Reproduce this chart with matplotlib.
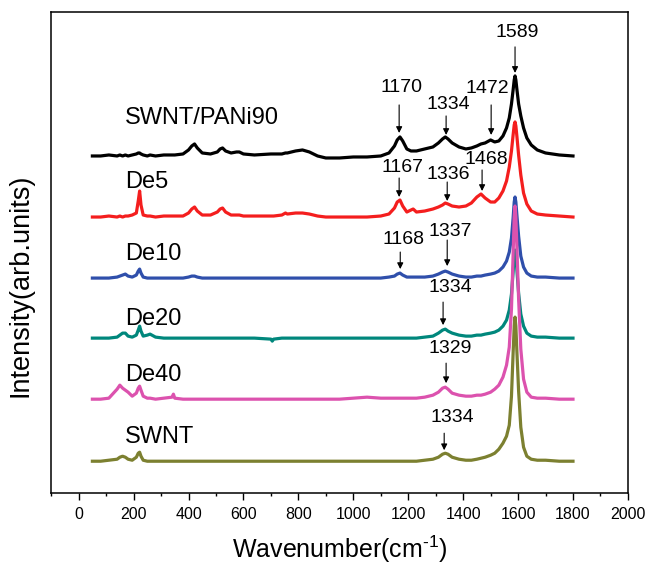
import matplotlib
matplotlib.use('Agg')
import matplotlib.pyplot as plt
from matplotlib.ticker import MultipleLocator

plt.rcParams['font.family'] = ['Liberation Sans', 'DejaVu Sans']
plt.rcParams['mathtext.fontset'] = 'custom'
plt.rcParams['mathtext.rm'] = 'Liberation Sans'

# shared wavenumber grid (cm-1)
wavenumber = [50, 80, 110, 140, 150, 160, 170, 180, 195, 210, 217, 222, 227, 235, 250, 260, 280, 310,
              340, 345, 350, 380, 400, 412, 422, 432, 450, 480, 505, 515, 524, 535, 555, 575, 585, 600,
              640, 700, 705, 710, 740, 753, 760, 790, 815, 840, 870, 900, 950, 1000, 1050, 1100, 1130,
              1150, 1160, 1170, 1180, 1195, 1210, 1218, 1230, 1260, 1290, 1310, 1325, 1335, 1345, 1360,
              1385, 1410, 1430, 1450, 1465, 1480, 1500, 1515, 1530, 1545, 1558, 1568, 1576, 1582, 1586,
              1589, 1592, 1596, 1602, 1610, 1620, 1632, 1648, 1670, 1700, 1750, 1800]

# intensities (arb. units), relative to each trace's own baseline
pani90 = [0, 0, 1, 0, 1, 0, 1, 0, 1, 2, 3, 3, 2, 1, 0, 1, 0, 1,
          1, 1, 1, 2, 6, 10, 12, 8, 3, 2, 4, 7, 8, 5, 3, 4, 4, 2,
          1, 2, 2, 2, 2, 3, 3, 5, 6, 4, 0, -2, -2, -1, -1, 0, 3,
          10, 16, 19, 15, 7, 5, 5, 5, 7, 9, 13, 17, 19, 17, 13,
          9, 7, 8, 10, 12, 13, 16, 14, 15, 20, 28, 38, 52, 66, 76,
          80, 76, 66, 52, 40, 28, 18, 11, 6, 3, 1, 0]
de5 = [0, 0, 1, 0, 1, 0, 1, 1, 2, 4, 16, 26, 12, 2, 1, 1, 0, 1,
       1, 1, 1, 1, 4, 8, 10, 6, 2, 2, 5, 8, 9, 5, 2, 2, 2, 1,
       1, 1, 1, 1, 2, 4, 3, 4, 4, 3, 1, 0, 0, 0, 0, 1, 3,
       9, 15, 17, 11, 5, 7, 8, 5, 6, 8, 10, 12, 14, 13, 11,
       10, 11, 14, 20, 23, 19, 15, 15, 19, 26, 36, 50, 66, 82, 92,
       95, 91, 80, 62, 42, 24, 13, 6, 3, 2, 1, 0]
de10 = [0, 0, 0, 1, 2, 3, 4, 2, 1, 3, 7, 9, 5, 1, 0, 0, 0, 0,
        0, 0, 0, 0, 1, 2, 2, 1, 0, 0, 0, 0, 0, 0, 0, 0, 0, 0,
        0, 0, 0, 0, 0, 0, 0, 0, 0, 0, 0, 0, 0, 0, 0, 0, 1,
        2, 4, 5, 3, 1, 1, 1, 1, 1, 2, 4, 6, 7, 6, 4,
        2, 1, 1, 2, 2, 3, 4, 5, 7, 11, 17, 26, 40, 60, 76,
        81, 76, 62, 42, 22, 11, 5, 2, 1, 1, 0, 0]
de20 = [0, 0, 0, 1, 3, 5, 5, 2, 1, 3, 8, 12, 7, 2, 3, 4, 1, 0,
        0, 0, 0, 0, 0, 0, 0, 0, 0, 0, 0, 0, 0, 0, 0, 0, 0, 0,
        0, -1, -3, -1, 0, 0, 0, 0, 0, 0, 0, 0, 0, 0, 0, 0, 0,
        0, 0, 0, 0, 0, 0, 0, 0, 1, 2, 5, 8, 9, 7, 5,
        3, 2, 2, 3, 3, 4, 5, 6, 8, 12, 18, 28, 44, 66, 83,
        88, 83, 67, 45, 24, 12, 5, 2, 1, 1, 0, 0]
de40 = [0, 0, 1, 10, 14, 11, 9, 7, 3, 6, 11, 13, 9, 3, 1, 1, 0, 1,
        2, 5, 1, 0, 0, 0, 0, 0, 0, 0, 0, 0, 0, 0, 0, 0, 0, 0,
        0, 0, 0, 0, 0, 0, 0, 0, 0, 0, 0, 0, 0, 1, 2, 1, 1,
        1, 1, 1, 1, 1, 1, 1, 1, 2, 4, 7, 11, 12, 10, 6,
        4, 3, 3, 4, 4, 5, 7, 10, 14, 22, 34, 52, 90, 145, 182,
        193, 182, 150, 100, 50, 20, 7, 2, 1, 1, 0, 0]
swnt = [0, 0, 1, 2, 4, 5, 4, 2, 1, 4, 8, 9, 5, 1, 0, 0, 0, 0,
        0, 0, 0, 0, 0, 0, 0, 0, 0, 0, 0, 0, 0, 0, 0, 0, 0, 0,
        0, 0, 0, 0, 0, 0, 0, 0, 0, 0, 0, 0, 0, 0, 0, 0, 0,
        0, 0, 0, 0, 0, 0, 0, 0, 1, 2, 4, 7, 8, 7, 4,
        2, 1, 1, 2, 3, 4, 6, 8, 12, 18, 25, 36, 65, 108, 135,
        144, 135, 108, 70, 34, 14, 5, 2, 1, 1, 0, 0]

spectra = [pani90, de5, de10, de20, de40, swnt]
names = ["SWNT/PANi90", "De5", "De10", "De20", "De40", "SWNT"]
colors = ["#000000", "#f41e1e", "#2f4fab", "#00877c", "#dc52ae", "#7c8030"]
offsets = [337, 276, 215, 155, 94, 32]
name_y = [375, 311, 239, 174, 118, 56]

# peak annotations: text, text x, text y, arrow x, arrow tail y, arrow tip y
peak_text = ["1589", "1170", "1334", "1472", "1167", "1336", "1468",
             "1168", "1337", "1334", "1329", "1334"]
peak_tx = [1596, 1175, 1345, 1487, 1178, 1345, 1484, 1182, 1353, 1353, 1353, 1360]
peak_ty = [460, 405, 388, 404, 325, 318, 333, 254, 262, 206, 145, 76]
arrow_x = [1589, 1167, 1338, 1502, 1167, 1342, 1469, 1171, 1342, 1327, 1338, 1331]
arrow_tail = [446, 388, 377, 388, 315, 311, 323, 241, 253, 191, 130, 60]
arrow_tip = [420, 360, 358, 358, 296, 292, 302, 224, 227, 168, 110, 43]

fig = plt.figure(figsize=(6.48, 5.65), dpi=100)
ax = fig.add_axes([0.079, 0.127, 0.890, 0.852])

for n in range(len(spectra)):
    y = [v + offsets[n] for v in spectra[n]]
    ax.plot(wavenumber, y, color=colors[n], lw=2.3, solid_joinstyle='round')
    ax.text(170, name_y[n], names[n], fontsize=17, ha='left', va='center')

for i in range(len(peak_text)):
    ax.annotate('', xy=(arrow_x[i], arrow_tip[i]), xytext=(arrow_x[i], arrow_tail[i]),
                arrowprops=dict(arrowstyle='-|>', color='k', lw=0.8, mutation_scale=9,
                                shrinkA=0, shrinkB=0))
    ax.text(peak_tx[i], peak_ty[i], peak_text[i], fontsize=14, ha='center', va='center')

ax.set_xlim(-100, 2000)
ax.set_ylim(0, 481)
ax.xaxis.set_major_locator(MultipleLocator(200))
ax.xaxis.set_minor_locator(MultipleLocator(100))
ax.set_yticks([])
ax.tick_params(axis='x', which='major', direction='out', length=5, width=1, labelsize=11.5, pad=5)
ax.tick_params(axis='x', which='minor', direction='out', length=2.5, width=1)
for s in ax.spines.values():
    s.set_linewidth(1.1)

ax.set_xlabel("Wavenumber(cm$^{\\text{-1}}$)", fontsize=18, labelpad=8)
ax.set_ylabel("Intensity(arb.units)", fontsize=19.5)
ax.yaxis.set_label_coords(-0.03, 0.432)

plt.savefig("out.png", dpi=100)
